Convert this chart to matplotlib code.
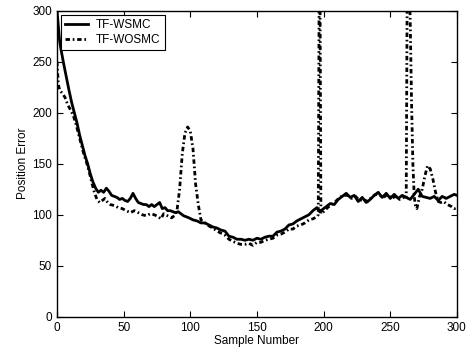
import matplotlib
matplotlib.use('Agg')
import matplotlib.pyplot as plt

plt.rcParams['font.family'] = ['Liberation Sans', 'DejaVu Sans']

# TF-WSMC (solid)
ws_x = [0, 1, 2, 3, 4, 5, 7, 9, 11, 13, 15, 17, 19, 21, 23, 25, 27, 29, 31, 33,
        35, 37, 39, 41, 43, 45, 47, 49, 51, 53, 55, 57, 59, 61, 63, 65, 67, 69, 71, 73,
        75, 77, 79, 81, 83, 85, 87, 89, 91, 93, 95, 97, 99, 102, 105, 108, 111, 114, 117, 120,
        123, 126, 129, 132, 135, 138, 141, 144, 147, 150, 153, 156, 159, 162, 165, 168, 171, 174, 177, 180,
        183, 186, 189, 192, 195, 197, 199, 202, 205, 208, 211, 214, 217, 220, 223, 226, 229, 232, 235, 238,
        241, 244, 247, 250, 253, 256, 259, 262, 265, 268, 271, 274, 277, 280, 283, 286, 289, 292, 295, 298, 300]
ws_y = [300, 285, 270, 262, 255, 248, 235, 222, 210, 200, 190, 178, 168, 158, 150, 140, 132, 126, 122, 124,
        122, 126, 123, 119, 118, 117, 115, 116, 114, 113, 116, 121, 116, 112, 111, 110, 110, 108, 110, 108,
        110, 112, 106, 107, 104, 104, 103, 102, 103, 101, 99, 98, 97, 95, 94, 92, 92, 90, 88, 87,
        85, 84, 79, 78, 76, 76, 75, 76, 75, 77, 76, 78, 79, 79, 83, 84, 86, 90, 91, 94,
        96, 98, 100, 104, 107, 103, 105, 108, 111, 110, 115, 118, 121, 117, 119, 113, 117, 112, 115, 119,
        122, 117, 121, 116, 120, 116, 119, 117, 115, 120, 125, 118, 117, 116, 118, 114, 118, 116, 118, 120, 119]

# TF-WOSMC (dash-dot)
wo_x = [0, 1, 2, 4, 6, 8, 10, 12, 14, 16, 18, 20, 22, 24, 26, 28, 30, 32, 34, 36,
        38, 40, 43, 46, 49, 52, 55, 58, 61, 64, 67, 70, 73, 76, 78, 80, 83, 86, 88, 90,
        92, 94, 96, 98, 100, 102, 104, 106, 108, 111, 114, 117, 120, 123, 126, 129, 132, 135, 138, 141,
        144, 147, 150, 153, 156, 159, 162, 165, 168, 171, 174, 177, 180, 183, 186, 189, 192, 195, 196, 197,
        198, 200, 203, 206, 209, 212, 215, 218, 221, 224, 227, 230, 233, 236, 239, 242, 245, 248, 251, 254,
        257, 260, 262, 263, 265, 266, 267, 268, 269, 270, 272, 274, 276, 278, 280, 282, 284, 286, 288, 290,
        293, 296, 298, 300]
wo_y = [250, 228, 222, 219, 215, 208, 203, 198, 190, 180, 170, 160, 152, 143, 132, 122, 115, 112, 114, 116,
        112, 110, 109, 107, 106, 104, 102, 104, 102, 100, 99, 101, 100, 98, 96, 101, 99, 97, 99, 104,
        125, 160, 180, 186, 182, 165, 130, 110, 95, 92, 89, 87, 84, 82, 80, 76, 74, 72, 71, 71,
        72, 70, 73, 73, 75, 76, 77, 80, 81, 83, 86, 86, 89, 90, 92, 95, 96, 98, 100, 420,
        101, 103, 107, 110, 113, 117, 119, 119, 116, 118, 114, 115, 113, 117, 120, 119, 117, 120, 116, 118,
        115, 117, 118, 400, 290, 210, 150, 118, 108, 106, 118, 125, 138, 148, 145, 135, 122, 113, 112, 113,
        110, 108, 106, 107]

fig = plt.figure(figsize=(4.71, 3.54), dpi=100)
ax = fig.add_axes([0.121, 0.105, 0.849, 0.865])

ax.plot(ws_x, ws_y, color='black', linewidth=2.0, linestyle='-', label='TF-WSMC')
ax.plot(wo_x, wo_y, color='black', linewidth=2.0, dashes=(1.6, 1.0, 0.6, 1.0),
        label='TF-WOSMC')

ax.set_xlim(0, 300)
ax.set_ylim(0, 300)
ax.set_xticks([0, 50, 100, 150, 200, 250, 300])
ax.set_yticks([0, 50, 100, 150, 200, 250, 300])
ax.tick_params(direction='in', top=True, right=True, length=4, labelsize=8.5, width=0.8)
for s in ax.spines.values():
    s.set_linewidth(1.0)

ax.set_xlabel('Sample Number', fontsize=8.5, labelpad=1)
ax.set_ylabel('Position Error', fontsize=8.5, labelpad=2)

leg = ax.legend(loc='upper left', fontsize=8.5, frameon=True, fancybox=False,
                edgecolor='black', framealpha=1, handlelength=1.9, handletextpad=0.7,
                borderpad=0.35, labelspacing=0.25, borderaxespad=0.35)
leg.get_frame().set_linewidth(0.8)

fig.savefig('out.png', dpi=100)
